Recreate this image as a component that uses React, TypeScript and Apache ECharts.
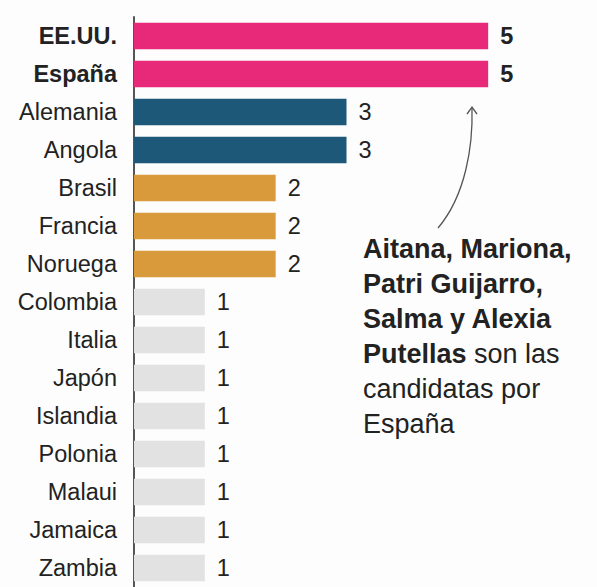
import React, { useEffect, useRef } from "react";
import * as echarts from "echarts";

const categories = ["EE.UU.", "España", "Alemania", "Angola", "Brasil", "Francia", "Noruega", "Colombia", "Italia", "Japón", "Islandia", "Polonia", "Malaui", "Jamaica", "Zambia"];
const values = [5, 5, 3, 3, 2, 2, 2, 1, 1, 1, 1, 1, 1, 1, 1];
const boldCategories = ["EE.UU.", "España"];

const colorFor = (v: number) => (v >= 5 ? "#E8297A" : v === 3 ? "#1D5878" : v === 2 ? "#D99A3C" : "#E2E2E2");

const FONT = "Liberation Sans, Arial, sans-serif";
const TXT = "#222";

export default function App() {
  const ref = useRef<HTMLDivElement>(null);
  useEffect(() => {
    if (!ref.current) return;
    const chart = echarts.init(ref.current, undefined, { renderer: "svg" });
    chart.setOption({
      animation: false,
      backgroundColor: "#FDFDFD",
      grid: { left: 134, right: 38, top: 17, height: 576, containLabel: false },
      xAxis: { type: "value", min: 0, max: 6, show: false },
      yAxis: {
        type: "category",
        data: categories,
        inverse: true,
        axisLine: { show: true, lineStyle: { color: "#555", width: 2 } },
        axisTick: { show: false },
        axisLabel: {
          margin: 17,
          fontSize: 23.5,
          fontFamily: FONT,
          color: TXT,
          formatter: (v: string) => (boldCategories.includes(v) ? `{b|${v}}` : v),
          rich: { b: { fontSize: 23.5, fontWeight: "bold", fontFamily: FONT, color: TXT } },
        },
      },
      series: [
        {
          type: "bar",
          data: values.map((v) => ({
            value: v,
            itemStyle: { color: colorFor(v) },
            label: { fontWeight: v >= 5 ? "bold" : "normal" },
          })),
          barCategoryGap: "30%",
          label: {
            show: true,
            position: "right",
            distance: 12,
            fontSize: 23.5,
            fontFamily: FONT,
            color: TXT,
          },
        },
      ],
      graphic: [
        {
          type: "bezierCurve",
          shape: { x1: 438, y1: 228, cpx1: 466, cpy1: 195, cpx2: 473, cpy2: 145, x2: 472, y2: 108 },
          style: { stroke: "#555", lineWidth: 1.3, fill: "none" },
        },
        {
          type: "polyline",
          shape: { points: [[467, 114], [472, 107], [477, 114]] },
          style: { stroke: "#555", lineWidth: 1.3, fill: "none" },
        },
        {
          type: "text",
          x: 363,
          y: 231,
          style: {
            text: "{b|Aitana, Mariona,}\n{b|Patri Guijarro,}\n{b|Salma y Alexia}\n{b|Putellas} {n|son las}\n{n|candidatas por}\n{n|España}",
            fontFamily: FONT,
            fontSize: 27,
            lineHeight: 35,
            fill: TXT,
            rich: {
              b: { fontFamily: FONT, fontSize: 27, fontWeight: "bold", lineHeight: 35, fill: TXT },
              n: { fontFamily: FONT, fontSize: 27, lineHeight: 35, fill: TXT },
            },
          },
        },
      ],
    });
    return () => chart.dispose();
  }, []);
  return <div ref={ref} style={{ width: 597, height: 587, position: "fixed", left: 0, top: 0 }} />;
}
